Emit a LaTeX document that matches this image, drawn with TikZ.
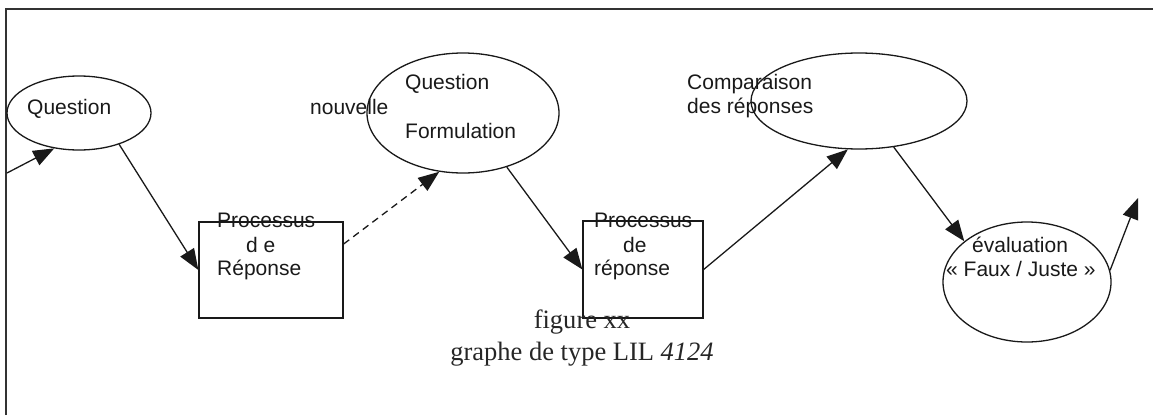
\documentclass[tikz,border=0pt]{standalone}
\usepackage{fontspec}
\setmainfont{Liberation Serif}
\newfontfamily\lblfont{Liberation Sans}
\usetikzlibrary{arrows.meta,shapes.geometric}
\tikzset{
  lbl/.style={anchor=base west, inner sep=0pt, font=\lblfont\fontsize{21}{24}\selectfont, text=black!90},
  oval/.style={draw=black!90, line width=1.3pt, ellipse, inner sep=0pt},
  boxnode/.style={draw=black!90, line width=1.3pt, rectangle, inner sep=0pt},
  conn/.style={line width=1.3pt, draw=black!90, -{Triangle[length=21pt,width=16pt]}},
  frameline/.style={line width=1.8pt, draw=black!80}
}
\begin{document}
\begin{tikzpicture}[x=1pt,y=-1pt]
\useasboundingbox (0,0) rectangle (1153,415);
\draw[frameline] (6,415) -- (6,9) -- (1153,9);
% ellipses
\node[oval, minimum width=144pt, minimum height=74pt] (q) at (79,113) {};
\node[oval, minimum width=192pt, minimum height=120pt] (f) at (463,113) {};
\node[oval, minimum width=216pt, minimum height=96pt] (c) at (859,101) {};
\node[oval, minimum width=168pt, minimum height=120pt] (e) at (1027,282) {};
% boxes
\node[boxnode, minimum width=144pt, minimum height=96pt] (b1) at (271,270) {};
\node[boxnode, minimum width=120pt, minimum height=97pt] (b2) at (643,269.5) {};
% labels
\node[lbl] (tq) at (27,114) {Question};
\node[lbl] (tn) at (310,114) {nouvelle};
\node[lbl] (tf1) at (405,89) {Question};
\node[lbl] (tf2) at (405,138) {Formulation};
\node[lbl] (tc1) at (687,89) {Comparaison};
\node[lbl] (tc2) at (687,113) {des réponses};
\node[lbl] (te1) at (972,252) {évaluation};
\node[lbl] (te2) at (946,276) {« Faux / Juste »};
\node[lbl] (tb1a) at (217,227) {Processus};
\node[lbl] (tb1b) at (246,252) {d e};
\node[lbl] (tb1c) at (217,275) {Réponse};
\node[lbl] (tb2a) at (594,227) {Processus};
\node[lbl] (tb2b) at (623,252) {de};
\node[lbl] (tb2c) at (594,275) {réponse};
% caption
\node[anchor=base, inner sep=0pt, font=\fontsize{26.5}{30}\selectfont, text=black!85] (cap1) at (582,328) {figure xx};
\node[anchor=base, inner sep=0pt, font=\fontsize{26.5}{30}\selectfont, text=black!85] (cap2) at (582,360) {graphe de type LIL \textit{4124}};
% connectors
\coordinate (in) at (7,173);
\coordinate (out) at (1138,198);
\draw[conn] (in) -- (q.-125);
\draw[conn] (q.-38) -- (b1.west);
\draw[conn, dashed, dash pattern=on 7pt off 5pt] ([yshift=26pt]b1.east) -- (f.-112);
\draw[conn] (f.-51) -- (b2.west);
\draw[conn] (b2.east) -- (c.-103.5);
\draw[conn] (c.-53) -- (e.147);
\draw[conn] (e.8) -- (out);
\end{tikzpicture}
\end{document}
